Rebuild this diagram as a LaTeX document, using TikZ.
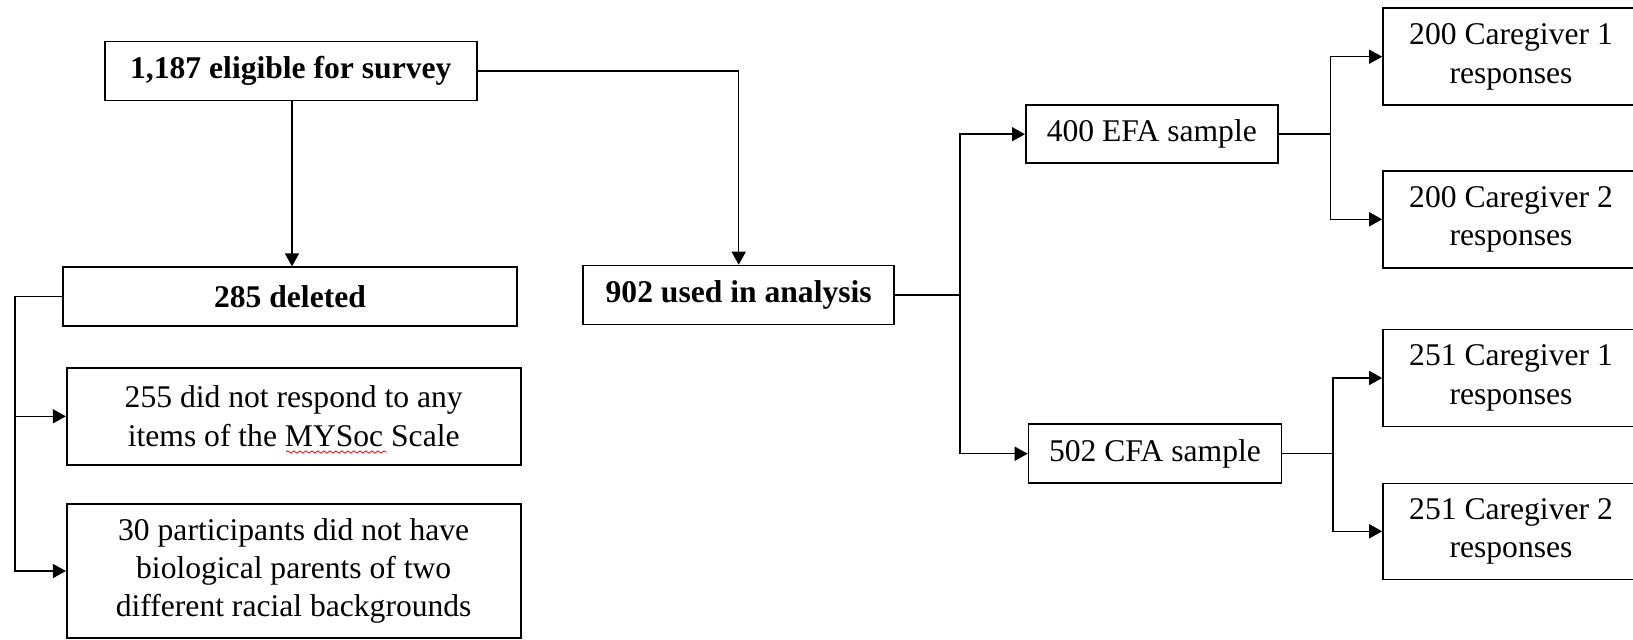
\documentclass[tikz,border=0pt]{standalone}
\usepackage{fontspec}
\setmainfont{Liberation Serif}
\usetikzlibrary{arrows.meta,decorations.pathmorphing}
\begin{document}
\begin{tikzpicture}[x=0.5pt,y=-0.5pt,
  box/.style={draw=black, line width=0.8pt, inner sep=0pt, align=center,
    font=\fontsize{15.8}{19.2}\selectfont},
  bbox/.style={box, font=\fontsize{15.8}{19.2}\selectfont\bfseries},
  conn/.style={draw=black, line width=0.75pt},
  arr/.style={conn, -{Triangle[length=6.5pt,width=7pt]}}]
\useasboundingbox (0,0) rectangle (1633,639);
% nodes
\node[bbox, minimum width=372*0.5pt, minimum height=59*0.5pt] (A) at (290.8,71) {1,187 eligible for survey};
\node[bbox, minimum width=454*0.5pt, minimum height=59*0.5pt] (B) at (290,296.7) {285 deleted};
\node[box, minimum width=454*0.5pt, minimum height=97*0.5pt] (C) at (293.7,416.3) {255 did not respond to any\\items of the MYSoc Scale};
\node[box, minimum width=454*0.5pt, minimum height=134*0.5pt] (D) at (293.7,571) {30 participants did not have\\biological parents of two\\different racial backgrounds};
\node[bbox, minimum width=311*0.5pt, minimum height=59*0.5pt] (E) at (738.7,295) {902 used in analysis};
\node[box, minimum width=252*0.5pt, minimum height=58*0.5pt] (F) at (1151.8,134.2) {400 EFA sample};
\node[box, minimum width=253*0.5pt, minimum height=59*0.5pt] (G) at (1155,453.7) {502 CFA sample};
\node[box, minimum width=256*0.5pt, minimum height=97*0.5pt] (H) at (1511,56.7) {200 Caregiver 1\\responses};
\node[box, minimum width=256*0.5pt, minimum height=97*0.5pt] (I) at (1511,219.3) {200 Caregiver 2\\responses};
\node[box, minimum width=256*0.5pt, minimum height=97*0.5pt] (J) at (1511,378) {251 Caregiver 1\\responses};
\node[box, minimum width=256*0.5pt, minimum height=96*0.5pt] (K) at (1511,531.3) {251 Caregiver 2\\responses};
% junction coordinates
\coordinate (bx) at (15,0);
\coordinate (j1) at (960,0);
\coordinate (j2) at (1330.7,0);
\coordinate (j3) at (1333,0);
% connectors
\draw[arr] ([xshift=0.6pt]A.south) -- ([xshift=0.6pt]A.south |- B.north);
\draw[arr] (B.west) -| (bx |- C.west) -- (C.west);
\draw[arr] (B.west -| bx) |- (D.west);
\draw[arr] (A.east) -| (E.north);
\draw[arr] (E.east) -| (j1 |- F.west) -- (F.west);
\draw[arr] (E.east -| j1) |- (G.west);
\draw[arr] (F.east) -| (j2 |- H.west) -- (H.west);
\draw[arr] (F.east -| j2) |- (I.west);
\draw[arr] (G.east) -| (j3 |- J.west) -- (J.west);
\draw[arr] (G.east -| j3) |- (K.west);
% spell-check underline under MYSoc
\draw[red, line width=0.4pt, decorate, decoration={snake, amplitude=0.6pt, segment length=3pt}] (286,452) -- (387,452);
\end{tikzpicture}
\end{document}
